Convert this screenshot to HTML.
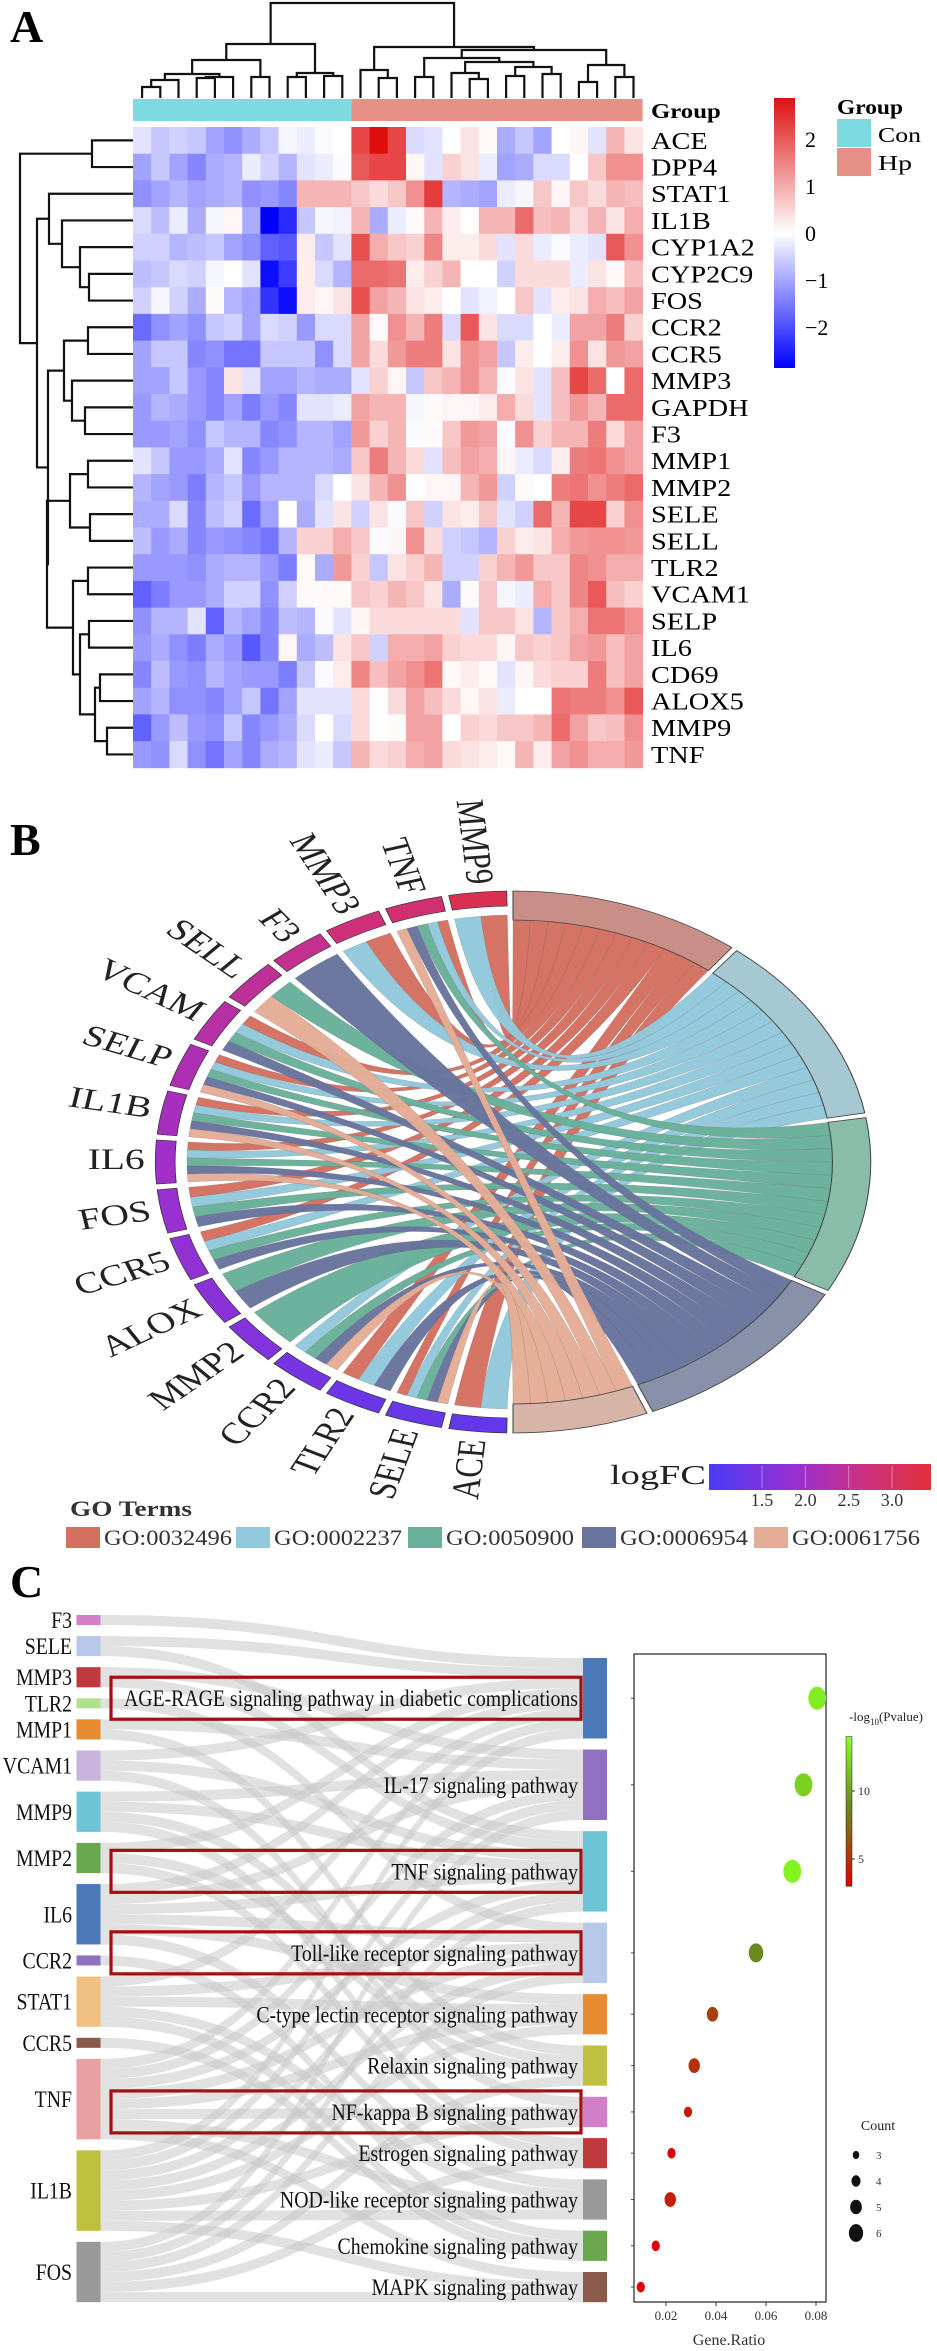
<!DOCTYPE html>
<html><head><meta charset="utf-8"><style>
html,body{margin:0;padding:0;background:#fff}
svg{display:block}
text{font-family:"Liberation Serif",serif}
</style></head><body>
<svg id="fig" xmlns="http://www.w3.org/2000/svg" width="937" height="2351" viewBox="0 0 937 2351">
<defs>
<linearGradient id="heatGrad" x1="0" y1="0" x2="0" y2="1">
<stop offset="0" stop-color="#dd1111"/><stop offset="0.5" stop-color="#ffffff"/><stop offset="1" stop-color="#0000ff"/>
</linearGradient>
<linearGradient id="fcGrad" x1="0" y1="0" x2="1" y2="0">
<stop offset="0" stop-color="#4b3bf5"/><stop offset="0.4" stop-color="#9a30d0"/><stop offset="0.7" stop-color="#cc3080"/><stop offset="1" stop-color="#e0303a"/>
</linearGradient>
<linearGradient id="pGrad" x1="0" y1="1" x2="0" y2="0">
<stop offset="0" stop-color="#e00000"/><stop offset="0.27" stop-color="#a04a10"/><stop offset="0.55" stop-color="#6a8a20"/><stop offset="1" stop-color="#88ff22"/>
</linearGradient>
</defs>
<text x="10" y="42" font-size="46" font-weight="bold">A</text>
<text x="10" y="855" font-size="46" font-weight="bold">B</text>
<text x="10" y="1597" font-size="46" font-weight="bold">C</text>
<g id="heat"></g>
<g id="chord"></g>
<g id="sankey"></g>
<g id="dots"></g>
</svg>
<script>
// ===== Panel A data =====
const rowNames=["ACE","DPP4","STAT1","IL1B","CYP1A2","CYP2C9","FOS","CCR2","CCR5","MMP3","GAPDH","F3","MMP1","MMP2","SELE","SELL","TLR2","VCAM1","SELP","IL6","CD69","ALOX5","MMP9","TNF"];
const nCon=12;
const nHp=16;
const heatValues=[
[-0.3,-0.6,-0.5,-0.6,-1.0,-1.2,-0.9,-0.6,-0.1,-0.2,-0.05,0,2.0,2.6,2.0,-0.4,-0.3,0,0.3,0.05,-0.9,-0.6,-1.0,0,0.1,-0.3,0.8,0.3],
[-1,-0.6,-1,-1.3,-0.9,-0.8,-0.2,-0.5,-0.8,-0.3,-0.2,-0.05,1.8,2.0,2.0,0.1,-0.3,0.5,0.3,-0.2,-1,-0.9,-0.4,-0.4,0,0.6,1.2,1.2],
[-1.2,-1,-0.8,-1,-0.9,-0.8,-1.2,-1.1,-1.3,0.8,0.8,0.8,0.6,0.4,0.6,1.2,2.1,-0.8,-0.9,-1.0,-0.2,-0.1,0.6,0.1,0.6,0.4,0.8,0.7],
[-0.4,-0.7,-0.2,-0.9,-0.1,0.1,-0.9,-2.8,-2.3,-0.6,-0.1,-0.15,0.8,-0.9,-0.2,0.05,0.8,0.2,0,0.8,0.8,1.6,0.7,0.8,0.4,0.8,0.3,0.9],
[-0.5,-0.5,-0.8,-0.7,-0.6,-1,-1.2,-1.7,-1.8,0.2,-0.6,-0.3,1.9,0.9,0.6,0.5,1.3,0.2,0.2,0.4,-0.3,0.4,-0.2,-0.05,-0.2,-0.3,1.8,1.2],
[-0.7,-0.6,-0.4,-0.5,-0.1,0,-0.3,-2.6,-2.1,0.2,-0.4,-0.8,1.6,1.6,1.5,0.2,0.5,0.8,0,0,-0.5,0.4,0.4,0.4,-0.2,0.3,0.05,0.7],
[-0.5,-0.1,-0.5,-0.9,0.05,-0.8,-1,-2.2,-2.6,0.2,0.1,0.3,1.9,1.0,0.8,0.3,0.2,0,-0.3,-0.15,0,0.6,-0.3,0.2,0.3,0.9,0.7,1.0],
[-1.6,-1.2,-1,-1.2,-0.6,-0.5,-1,-0.4,-0.5,-1.1,-0.4,-0.4,1.0,0.05,1.2,0.8,1.4,-0.4,1.8,0.3,-0.4,-0.4,0,-0.2,1.0,1.0,1.4,0.5],
[-1,-0.6,-0.6,-1.3,-1.2,-1.5,-1.5,-0.6,-0.6,-0.6,-1.2,-0.4,1.0,0.4,1.1,1.4,1.4,0.3,1.2,1.0,-0.6,0.2,0,0.2,1.2,0.3,1.1,1.0],
[-1,-1,-0.6,-1.1,-1.3,0.3,-0.3,-1,-1,-0.8,-0.9,-0.9,-0.3,0.5,0.1,-0.6,0.6,0.8,1.2,0.8,-0.05,0.3,-0.3,0.7,2.0,1.6,0,1.6],
[-1.1,-0.8,-0.9,-1.1,-1.3,-1,-1.4,-1.1,-1.3,-0.3,-0.3,-0.2,1.0,0.8,0.8,-0.1,0.05,0.1,0.1,0.2,0.9,0.4,-0.3,0.7,1.1,0.8,1.6,1.6],
[-1.1,-1.1,-1,-1.2,-0.6,-0.8,-0.8,-1.3,-1.2,-0.8,-0.8,-1,1.1,0.5,0.8,-0.05,0.05,0.6,1.1,1.0,-0.05,1.2,0.5,0.8,0.8,1.4,0.4,1.0],
[-0.3,-0.6,-1.1,-1.1,-0.9,-0.3,-1.3,-1.1,-0.8,-0.8,-0.8,-0.9,0.6,1.4,0.8,0.4,-0.3,0.7,1.0,0.9,0.1,-0.2,-0.4,0.2,1.4,1.5,1.2,1.0],
[-0.8,-1,-1.1,-1.4,-0.8,-0.6,-1.1,-0.8,-0.8,-0.8,-0.4,0,0.3,0.8,1.2,0,0.1,0.1,0.8,1.1,-0.5,0.05,0,1.4,1.5,1.2,1.4,1.6],
[-0.9,-0.9,-0.4,-1.3,-0.7,-0.5,-1.6,-1.0,0,-0.9,-0.3,0.3,-0.5,0.3,-0.05,0.6,-0.5,0.3,0.2,0.6,-0.3,-0.5,1.6,0.8,2.0,2.0,0.5,1.2],
[-0.7,-1.1,-0.9,-1.3,-1.1,-1.2,-1.3,-1.5,-0.8,0.5,0.5,0.9,0.6,-0.05,0.1,1.2,0.4,-0.5,-0.6,-0.8,0.5,0.2,0.3,0.9,1.1,1.2,1.2,1.1],
[-1.1,-1.1,-1.1,-1.2,-0.9,-0.8,-0.8,-1.1,-1.4,0.05,-0.9,1.1,0.5,-0.6,0.3,0.5,0.8,-0.5,-0.5,0.5,0.8,1.1,0.6,0.6,1.3,1.2,0.9,0.9],
[-1.7,-1.4,-1.1,-1.1,-0.9,-0.5,-0.5,-1.2,-0.5,0.05,0.05,0.05,0.6,0.5,0.8,0.6,0.3,-0.9,0.05,0.6,-0.1,-0.2,0.9,0.6,1.3,1.8,0.7,0.5],
[-1.2,-0.8,-0.8,-0.3,-1.7,-0.8,-1,-1.3,-0.7,-0.8,-0.05,-0.3,0.1,0.4,0.4,0.4,0.4,0.4,-0.3,0.6,0.6,0.3,-0.8,0.6,0.9,1.5,1.5,1.2],
[-1.1,-0.9,-1.2,-1.4,-0.9,-1.1,-1.8,-1.3,0.1,-0.9,-0.7,0.3,0.6,-0.5,0.9,0.9,1.0,0.5,0.4,0.4,0.1,0.6,0.5,0.6,1.0,1.1,0.7,1.0],
[-1.3,-0.7,-1.1,-1.2,-0.8,-1,-1.1,-1.1,-1.4,-0.6,-0.05,0.2,1.3,0.7,1.0,1.2,1.5,0.05,0.2,0.05,-0.3,0.1,0.4,0.5,0.5,1.4,0.7,1.0],
[-1,-0.8,-1.2,-1.2,-1.3,-1.0,-0.6,-1.5,-1,-0.3,-0.3,-0.3,0.4,0,0.4,1.0,0.7,0.4,0.1,0.3,-0.2,0,0,1.5,1.4,1.4,1.2,1.8],
[-1.7,-1.1,-0.7,-1.1,-1.2,-0.6,-1.3,-1.1,-0.9,-0.4,0,-0.4,0.4,0,0.05,1.0,1.0,0,0.5,0.4,0.6,0.6,0.8,1.6,1.0,0.6,0.7,1.2],
[-1.1,-1.2,-0.4,-1.2,-1.5,-1.0,-1.3,-0.9,-0.8,-0.3,-0.2,-0.6,0.8,0.4,0.5,0.9,1.0,0.4,0.3,0.2,0.05,0.8,0.2,1.0,1.2,0.9,0.9,1.1]
];
const heatTicks=[2,1,0,-1,-2];
const heatTickLabels=["2","1","0","\u22121","\u22122"];

// ===== Panel B data =====
const geneNamesB=["ACE","SELE","TLR2","CCR2","MMP2","ALOX","CCR5","FOS","IL6","IL1B","SELP","VCAM","SELL","F3","MMP3","TNF","MMP9"];
const geneLogFC=[1.2,1.25,1.3,1.45,1.6,1.7,1.8,1.9,2.0,2.1,2.2,2.35,2.45,2.55,2.75,2.85,3.2];
const goTerms=["GO:0032496","GO:0002237","GO:0050900","GO:0006954","GO:0061756"];
const goColors=["#d47060","#92c8dc","#68b09a","#68749e","#e4ac96"];
const goBandColors=["#c98e86","#a6c8d2","#8abcaa","#8890aa","#d6b4a6"];
const geneLinks=[[0,1],[0,1,2,3,4],[0,1,3],[1,2,3,4],[2],[2,3],[0,1,2,3],[0,1,2,3],[0,1,2,3,4],[0,1,2,3,4],[0,1,2,3,4],[0,1,2,3],[2,4],[3],[0,1],[0,1,2,3,4],[0,1]];
const fcTicks=[1.5,2.0,2.5,3.0];

// ===== Panel C data =====
const sGenes=["F3","SELE","MMP3","TLR2","MMP1","VCAM1","MMP9","MMP2","IL6","CCR2","STAT1","CCR5","TNF","IL1B","FOS"];
const sGeneColors=["#d07fc8","#b8c8e8","#c0393e","#b0e090","#e88a30","#c8b4dc","#6cc4d4","#6aa84f","#4a78b8","#9070c0","#f0c080","#8c5a4a","#e8a0a0","#c0c040","#999999"];
const pathways=["AGE-RAGE signaling pathway in diabetic complications","IL-17 signaling pathway","TNF signaling pathway","Toll-like receptor signaling pathway","C-type lectin receptor signaling pathway","Relaxin signaling pathway","NF-kappa B signaling pathway","Estrogen signaling pathway","NOD-like receptor signaling pathway","Chemokine signaling pathway","MAPK signaling pathway"];
const pathColors=["#4a78b8","#9070c0","#6cc4d4","#b8c8e8","#e88a30","#c0c040","#d07fc8","#c0393e","#999999","#6aa84f","#8c5a4a"];
const pathGenes=[["SELE","VCAM1","MMP2","IL6","STAT1","TNF","IL1B","F3"],["MMP3","MMP1","MMP9","IL6","TNF","IL1B","FOS"],["SELE","MMP3","VCAM1","MMP9","IL6","TNF","IL1B","FOS"],["TLR2","IL6","STAT1","TNF","IL1B","FOS"],["IL6","STAT1","TNF","IL1B"],["MMP1","MMP2","MMP9","FOS"],["VCAM1","TNF","IL1B"],["MMP2","MMP9","FOS"],["IL6","STAT1","TNF","IL1B"],["CCR2","CCR5","STAT1"],["TNF","IL1B","FOS"]];
const highlighted=[0,2,3,6];
const geneRatio=[0.0805,0.075,0.0705,0.056,0.0386,0.0313,0.0288,0.0222,0.0217,0.0159,0.0099];
const negLogP=[13.2,12,13.5,9,5.5,5,4.2,3.2,4.2,3,2.6];
const counts=[6,6,6,5,4,4,3,3,4,3,3];
const ratioTicks=[0.02,0.04,0.06,0.08];
const pTicks=[5,10];
const countLegend=[3,4,5,6];

const NS="http://www.w3.org/2000/svg";
function mk(tag,attrs,parent){const e=document.createElementNS(NS,tag);for(const k in attrs)e.setAttribute(k,attrs[k]);if(parent)parent.appendChild(e);return e;}

// ================= PANEL A =================
const heat=document.getElementById("heat");
const hx0=133,hy0=127,cw=18.2,rh=26.7;
function heatColor(v){const t=Math.min(1,Math.abs(v)/2.75);
 if(v>=0)return `rgb(${Math.round(255-t*35)},${Math.round(255*(1-t))},${Math.round(255*(1-t))})`;
 return `rgb(${Math.round(255*(1-t))},${Math.round(255*(1-t))},255)`;}
heatValues.forEach((row,r)=>{row.forEach((v,c)=>{
 const el=mk("rect",{x:hx0+c*cw,y:hy0+r*rh,width:cw+0.4,height:rh+0.4,fill:heatColor(v)},heat);
 
 
});});
{const el=mk("rect",{x:hx0,y:99,width:nCon*cw,height:22,fill:"#7ddae0"},heat);


const el2=mk("rect",{x:hx0+nCon*cw,y:99,width:nHp*cw,height:22,fill:"#e69088"},heat);

}
const lblG=mk("g",{transform:"translate(651,0) scale(1.18,1)"},heat);
{const t=mk("text",{x:0,y:118,"font-size":21,"font-weight":"bold"},lblG);t.textContent="Group";

}
rowNames.forEach((n,r)=>{const t=mk("text",{x:0,y:hy0+r*rh+rh/2+8.5,"font-size":24},lblG);t.textContent=n;
 
 });
const dg=mk("g",{stroke:"#111","stroke-width":2.2,fill:"none"},heat);
const colTree=[3,[44,[60,[74,[80,[87,0,1],2],[77,[78,3,4],5]],[77,6,7]],[73,[77,8,9],[76,10,11]]],[47,[70,12,[78,13,14]],[50,[58,[77,15,16],[62,[73,17,[79,18,19]],[67,[76,20,21],[74,22,23]]]],[65,[82,24,25],[77,26,27]]]]];
function dTop(n){if(typeof n==="number")return{x:hx0+(n+0.5)*cw,y:98};
 const l=dTop(n[1]),r=dTop(n[2]);mk("path",{d:`M${l.x},${l.y}V${n[0]}H${r.x}V${r.y}`},dg);return{x:(l.x+r.x)/2,y:n[0]};}
dTop(colTree);
const rowTree=[20,[92,0,1],[37,[49,2,[62,3,[80,4,[89,5,6]]]],[48,[64,[88,7,8],[72,9,[85,10,11]]],[47,[70,[88,12,13],[90,14,15]],[73,[88,16,17],[80,[89,18,19],[95,[100,20,21],[107,22,23]]]]]]]];
function dLeft(n){if(typeof n==="number")return{y:hy0+(n+0.5)*rh,x:hx0};
 const a=dLeft(n[1]),b=dLeft(n[2]);mk("path",{d:`M${a.x},${a.y}H${n[0]}V${b.y}H${b.x}`},dg);return{y:(a.y+b.y)/2,x:n[0]};}
dLeft(rowTree);


{const el=mk("rect",{x:774,y:98,width:21,height:270,fill:"url(#heatGrad)"},heat);

}
heatTicks.forEach((v,i)=>{const y=233-v*47;const t=mk("text",{x:805,y:y+8,"font-size":22},heat);t.textContent=heatTickLabels[i];
 
 });
{const t=mk("text",{x:837,y:114,"font-size":21,"font-weight":"bold",textLength:66,lengthAdjust:"spacingAndGlyphs"},heat);t.textContent="Group";


const b1=mk("rect",{x:837,y:119,width:34,height:28,fill:"#7ddae0"},heat);


const b2=mk("rect",{x:837,y:148,width:34,height:28,fill:"#e69088"},heat);


const t1=mk("text",{x:878,y:142,"font-size":21,textLength:43,lengthAdjust:"spacingAndGlyphs"},heat);t1.textContent="Con";


const t2=mk("text",{x:878,y:170,"font-size":21,textLength:34,lengthAdjust:"spacingAndGlyphs"},heat);t2.textContent="Hp";

}

// ================= PANEL B =================
const chord=document.getElementById("chord");
const cg=mk("g",{transform:"translate(513,1162) scale(1.32,1)"},chord);
const R=271;
function P(r,a){const t=a*Math.PI/180;return[(r*Math.sin(t)).toFixed(2),(-r*Math.cos(t)).toFixed(2)];}
function arcBand(r1,r2,a1,a2){const p1=P(r2,a1),p2=P(r2,a2),p3=P(r1,a2),p4=P(r1,a1);const lg=(a2-a1)>180?1:0;
 return `M${p1}A${r2},${r2} 0 ${lg} 1 ${p2}L${p3}A${r1},${r1} 0 ${lg} 0 ${p4}Z`;}
function fcColor(v){const t=(v-0.89)/(3.45-0.89);const st=[[0,[75,59,245]],[0.4,[154,48,208]],[0.7,[204,48,128]],[1,[224,48,58]]];
 for(let i=1;i<st.length;i++){if(t<=st[i][0]){const f=(t-st[i-1][0])/(st[i][0]-st[i-1][0]);const a=st[i-1][1],b=st[i][1];return `rgb(${a.map((x,k)=>Math.round(x+(b[k]-x)*f)).join(",")})`;}}return "rgb(224,48,58)";}
const nG=geneNamesB.length,gGap=1.2,gSpan=(178-(nG-1)*gGap)/nG;
const geneStart=i=>181+i*(gSpan+gGap);
const goCounts=goTerms.map((_,g)=>geneLinks.filter(l=>l.includes(g)).length);
const totalLinks=goCounts.reduce((a,b)=>a+b,0);
const goGap=1,unitA=(180-(goTerms.length-1)*goGap)/totalLinks;
const goStart=[];{let a=0;goCounts.forEach((c,i)=>{goStart.push(a);a+=c*unitA+goGap;});}
const ribbons=[];
for(let g=0;g<goTerms.length;g++){
 const gs=[];for(let i=nG-1;i>=0;i--)if(geneLinks[i].includes(g))gs.push(i);
 gs.forEach((gi,k)=>{const b1=goStart[g]+k*unitA,b2=b1+unitA;
  const links=geneLinks[gi].slice().sort((a,b)=>b-a);const idx=links.indexOf(g);const w=gSpan/links.length;
  const a1=geneStart(gi)+idx*w,a2=a1+w;ribbons.push({g,a1,a2,b1,b2});});}
const rg=247,rb=242;
ribbons.forEach(rb0=>{const {g,a1,a2,b1,b2}=rb0;
 const d=`M${P(rg,a1)}A${rg},${rg} 0 0 1 ${P(rg,a2)}Q0,0 ${P(rb,b1)}A${rb},${rb} 0 0 1 ${P(rb,b2)}Q0,0 ${P(rg,a1)}Z`;
 const el=mk("path",{d,fill:goColors[g],"fill-opacity":0.97,stroke:"#555","stroke-width":0.3,"stroke-opacity":0.5},cg);
 
 });
goTerms.forEach((n,g)=>{const a1=goStart[g],a2=a1+goCounts[g]*unitA;
 const el=mk("path",{d:arcBand(rb,R,a1,a2),fill:goBandColors[g],stroke:"#444","stroke-width":0.8},cg);
 
 });
geneNamesB.forEach((n,i)=>{const a1=geneStart(i),a2=a1+gSpan;
 const el=mk("path",{d:arcBand(R-15,R,a1,a2),fill:fcColor(geneLogFC[i]),stroke:"#333","stroke-width":0.6},cg);
 
 
 const am=(a1+a2)/2;const p=P(R+8,am);
 const t=mk("text",{x:p[0],y:p[1],"font-size":30,"text-anchor":"end","dominant-baseline":"middle",fill:"#222",transform:`rotate(${(am-270).toFixed(2)} ${p[0]} ${p[1]})`},cg);
 t.textContent=n;
 
 });
{const t=mk("text",{x:610,y:1484,"font-size":27,textLength:96,lengthAdjust:"spacingAndGlyphs",fill:"#222"},chord);t.textContent="logFC";


const b=mk("rect",{x:709,y:1464,width:222,height:26,fill:"url(#fcGrad)"},chord);

}
const fcX=v=>762+(v-1.5)*86.7;
fcTicks.forEach(v=>{mk("line",{x1:fcX(v),x2:fcX(v),y1:1466,y2:1488,stroke:"#fff","stroke-opacity":0.4,"stroke-width":1},chord);
 const t=mk("text",{x:fcX(v),y:1506,"font-size":18,"text-anchor":"middle",fill:"#333"},chord);t.textContent=v.toFixed(1);
 
 });
{const t=mk("text",{x:70,y:1516,"font-size":22,"font-weight":"bold",fill:"#333",textLength:122,lengthAdjust:"spacingAndGlyphs"},chord);t.textContent="GO Terms";

}
const goLegX=[66,236,408,582,754];
goTerms.forEach((n,g)=>{const b=mk("rect",{x:goLegX[g],y:1527,width:34,height:21,fill:goColors[g]},chord);
 
 
 const t=mk("text",{x:goLegX[g]+38,y:1545,"font-size":22,fill:"#333",textLength:128,lengthAdjust:"spacingAndGlyphs"},chord);t.textContent=n;
 
 });

// ================= PANEL C =================
const sk=document.getElementById("sankey");
const unitH=10.06,gapL=11,gapR=11.1;
const geneCount=sGenes.map(g=>pathGenes.filter(p=>p.includes(g)).length);
const gY=[];{let y=1615;geneCount.forEach(c=>{gY.push(y);y+=c*unitH+gapL;});}
const pY=[];{let y=1658;pathGenes.forEach(p=>{pY.push(y);y+=p.length*unitH+gapR;});}
const pCenter=pathGenes.map((p,i)=>pY[i]+p.length*unitH/2);
const xL=100.4,xR=583,xm=(xL+xR)/2;
const lg=mk("g",{fill:"#c8c8c8","fill-opacity":0.55},sk);
sGenes.forEach((g,gi)=>{const ps=[];pathGenes.forEach((p,pi)=>{if(p.includes(g))ps.push(pi);});
 ps.forEach((pi,k)=>{const ys=gY[gi]+k*unitH;const j=sGenes.filter(x=>pathGenes[pi].includes(x)).indexOf(g);const yt=pY[pi]+j*unitH;
  const el=mk("path",{d:`M${xL},${ys}C${xm},${ys} ${xm},${yt} ${xR},${yt}V${yt+unitH}C${xm},${yt+unitH} ${xm},${ys+unitH} ${xL},${ys+unitH}Z`},lg);
  
  });});
const SX=0.86;
sGenes.forEach((g,i)=>{const h=geneCount[i]*unitH;
 const el=mk("rect",{x:76.5,y:gY[i],width:24,height:h,fill:sGeneColors[i]},sk);
 
 
 const t=mk("text",{x:0,y:0,"font-size":23,"text-anchor":"end",fill:"#111",transform:`translate(72,${gY[i]+h/2+8}) scale(${SX},1)`},sk);t.textContent=g;
 
 });
pathways.forEach((p,i)=>{const h=pathGenes[i].length*unitH;
 const el=mk("rect",{x:583,y:pY[i],width:24,height:h,fill:pathColors[i]},sk);
 
 
 const t=mk("text",{x:0,y:0,"font-size":23,"text-anchor":"end",fill:"#111",transform:`translate(578,${pCenter[i]+8}) scale(${SX},1)`},sk);t.textContent=p;
 
 });
highlighted.forEach(i=>{const el=mk("rect",{x:111,y:pCenter[i]-21,width:470,height:42,fill:"none",stroke:"#a01010","stroke-width":3.2},sk);
 
 });

// dot plot
const dp=document.getElementById("dots");
const bx0=634,bx1=826,by0=1654,by1=2302;
{const el=mk("rect",{x:bx0,y:by0,width:bx1-bx0,height:by1-by0,fill:"none",stroke:"#222","stroke-width":1.2},dp);

}
const xs=v=>666+(v-0.02)*2500;
function pColor(v){const st=[[3,[224,0,0]],[6,[160,74,16]],[9,[106,138,32]],[14,[136,255,34]]];
 if(v<=3)return "rgb(224,0,0)";for(let i=1;i<st.length;i++){if(v<=st[i][0]){const f=(v-st[i-1][0])/(st[i][0]-st[i-1][0]);const a=st[i-1][1],b=st[i][1];return `rgb(${a.map((x,k)=>Math.round(x+(b[k]-x)*f)).join(",")})`;}}return "rgb(136,255,34)";}
const rS=c=>2.5+(c-2)*1.6;
pathways.forEach((p,i)=>{mk("line",{x1:bx0-3,x2:bx0,y1:pCenter[i],y2:pCenter[i],stroke:"#444"},dp);
 const el=mk("ellipse",{cx:xs(geneRatio[i]),cy:pCenter[i],rx:rS(counts[i]),ry:rS(counts[i])*1.3,fill:pColor(negLogP[i])},dp);
 
 });
ratioTicks.forEach(v=>{mk("line",{x1:xs(v),x2:xs(v),y1:by1,y2:by1+4,stroke:"#333"},dp);
 const t=mk("text",{x:xs(v),y:2320,"font-size":13,"text-anchor":"middle",fill:"#333"},dp);t.textContent=v.toFixed(2);
 
 });
{const t=mk("text",{x:729,y:2345,"font-size":16,"text-anchor":"middle",fill:"#333"},dp);t.textContent="Gene.Ratio";

}
const pyS=v=>1859-(v-5)*13.6;
{const b=mk("rect",{x:846,y:pyS(14),width:6,height:pyS(3)-pyS(14),fill:"url(#pGrad)",stroke:"#222","stroke-width":0.5},dp);


const t=mk("text",{x:849,y:1721,"font-size":13,fill:"#222"},dp);
t.innerHTML='-log<tspan font-size="9" dy="4">10</tspan><tspan dy="-4">(Pvalue)</tspan>';

}
pTicks.forEach(v=>{mk("line",{x1:852,x2:855,y1:pyS(v),y2:pyS(v),stroke:"#333"},dp);
 const t=mk("text",{x:858,y:pyS(v)+4,"font-size":12,fill:"#333"},dp);t.textContent=String(v);
 
 });
{const t=mk("text",{x:878,y:2130,"font-size":14,"text-anchor":"middle",fill:"#222"},dp);t.textContent="Count";

}
countLegend.forEach((c,k)=>{const y=2155+k*26;
 const e=mk("ellipse",{cx:856,cy:y,rx:rS(c)*0.8,ry:rS(c)*1.0,fill:"#111"},dp);
 
 
 const t=mk("text",{x:876,y:y+4,"font-size":11,fill:"#333"},dp);t.textContent=String(c);
 
 });
</script>
</body></html>
